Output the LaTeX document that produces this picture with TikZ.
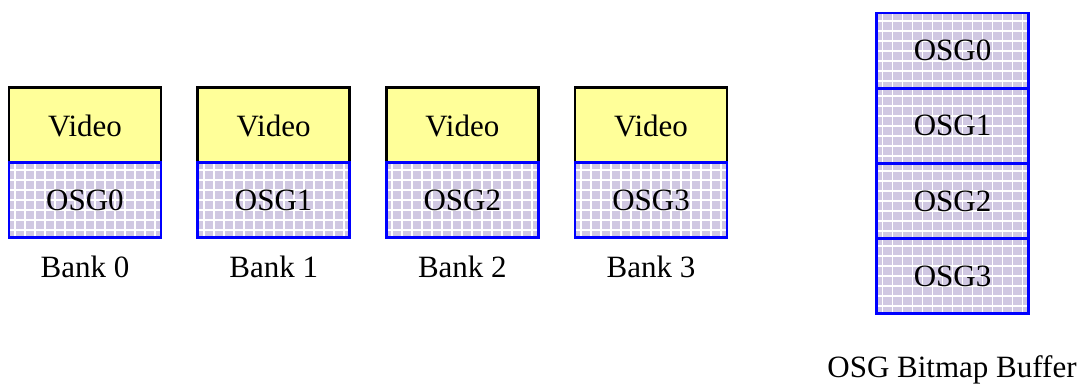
\documentclass[tikz,border=0pt]{standalone}
\usepackage{fontspec}
\setmainfont{Liberation Serif}
\definecolor{vidfill}{RGB}{255,255,153}
\definecolor{lav}{RGB}{208,200,226}
\newcommand{\gridcell}[2]{% center x, center y (px)
  \begin{scope}
    \clip (#1-76,#2-37.6) rectangle (#1+76,#2+37.6);
    \fill[lav] (#1-76,#2-37.6) rectangle (#1+76,#2+37.6);
    \foreach \k in {0,...,16}{
      \draw[white, line width=1.4pt] (#1-80+10*\k,#2-40) -- (#1-80+10*\k,#2+40);
    }
    \foreach \k in {0,...,8}{
      \draw[white, line width=1.4pt] (#1-80,#2-40+10*\k) -- (#1+80,#2-40+10*\k);
    }
  \end{scope}}
\begin{document}
\begin{tikzpicture}[x=0.75pt,y=-0.75pt,
  font=\fontsize{23.25}{28}\selectfont,
  cell/.style={rectangle, inner sep=0pt, minimum width=114pt, minimum height=56.4pt, line width=2.2pt},
  vidbox/.style={cell, draw=black, fill=vidfill},
  osgbox/.style={cell, draw=blue},
  lbl/.style={inner sep=0pt}]
\useasboundingbox (0,0) rectangle (1084,386);
\foreach \i in {0,1,2,3}{
  \pgfmathsetmacro{\cx}{9+76+188.67*\i}
  \node[vidbox] (v\i) at (\cx,125.5) {Video};
  \gridcell{\cx}{200}
  \node[osgbox] (o\i) at (\cx,200) {OSG\i};
  \node[lbl, anchor=base] (b\i) at (\cx,277) {Bank \i};
}
\foreach \i in {0,1,2,3}{
  \pgfmathsetmacro{\cy}{13+37.6+75.25*\i}
  \gridcell{952.5}{\cy}
  \node[osgbox] (r\i) at (952.5,\cy) {OSG\i};
}
\node[lbl, anchor=base] (buf) at (952,377) {OSG Bitmap Buffer};
\end{tikzpicture}
\end{document}
